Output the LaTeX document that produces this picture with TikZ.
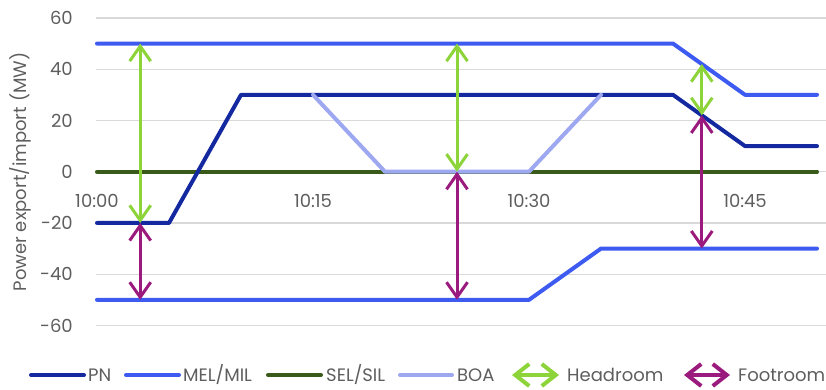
\documentclass[tikz,border=0pt]{standalone}
\usepackage{fontspec}
\setmainfont{Poppins}
\usetikzlibrary{arrows.meta}
\definecolor{pncol}{HTML}{1428A0}
\definecolor{melcol}{HTML}{3D5AF1}
\definecolor{selcol}{HTML}{3A5A1A}
\definecolor{boacol}{HTML}{9DA8F0}
\definecolor{headcol}{HTML}{8CD43A}
\definecolor{footcol}{HTML}{9B1A7E}
\definecolor{txtcol}{HTML}{5E5E5E}
\definecolor{gridcol}{HTML}{D9D9D9}
\begin{document}
\begin{tikzpicture}[x=1pt,y=-1pt,
  series/.style={line width=4pt, line cap=round, line join=round},
  rangearrow/.style={line width=3pt, {Straight Barb[length=15pt,width=21pt]}-{Straight Barb[length=15pt,width=21pt]}},
  legarrow/.style={line width=4pt, {Straight Barb[length=14pt,width=22pt]}-{Straight Barb[length=14pt,width=22pt]}},
  lbl/.style={text=txtcol, font=\fontsize{18}{20}\selectfont, inner sep=0pt},
  gridline/.style={draw=gridcol, line width=1.3pt}]
\useasboundingbox (0,0) rectangle (826,390);
\begin{scope}[shift={(97,171.7)}, x=14.4pt, y=2.5625pt]
  \foreach \v in {-60,-40,...,60} {
    \draw[gridline] (-0.07,\v) -- (50.7,\v);
    \node[lbl, anchor=east] (tick\v) at (-1.67,\v) {\v};
  }
  \foreach \t/\s in {0/10:00,15/10:15,30/10:30,45/10:45}
    \node[lbl] (time\t) at (\t,-11.3) {\s};
  % SEL/SIL
  \draw[series, selcol] (0,0) -- (50,0);
  % MEL/MIL
  \draw[series, melcol] (0,50) -- (40,50) -- (45,30) -- (50,30);
  \draw[series, melcol] (0,-50) -- (30,-50) -- (35,-30) -- (50,-30);
  % PN
  \draw[series, pncol] (0,-20) -- (5,-20) -- (10,30) -- (40,30) -- (45,10) -- (50,10);
  % BOA
  \draw[series, boacol] (15,30) -- (20,0) -- (30,0) -- (35,30);
  % anchor points for arrows
  \coordinate (melA) at (3,50);
  \coordinate (pnA) at (3,-20);
  \coordinate (minA) at (3,-50);
  \coordinate (melB) at (25,50);
  \coordinate (pnB) at (25,0);
  \coordinate (minB) at (25,-50);
  \coordinate (melC) at (42,42);
  \coordinate (pnC) at (42,22);
  \coordinate (minC) at (42,-30);
  \draw[rangearrow, headcol] (melA) -- (pnA);
  \draw[rangearrow, headcol] (melB) -- (pnB);
  \draw[rangearrow, headcol] (melC) -- (pnC);
  \draw[rangearrow, footcol] (pnA) -- (minA);
  \draw[rangearrow, footcol] (pnB) -- (minB);
  \draw[rangearrow, footcol] (pnC) -- (minC);
\end{scope}
\node[lbl, rotate=90] (ytitle) at (20,172) {Power export/import (MW)};
% legend
\draw[series, pncol] (31,375) -- (84,375);
\node[lbl, anchor=west] (legPN) at (88,375) {PN};
\draw[series, melcol] (126,375) -- (179,375);
\node[lbl, anchor=west] (legMEL) at (183,375) {MEL/MIL};
\draw[series, selcol] (268,375) -- (321,375);
\node[lbl, anchor=west] (legSEL) at (326,375) {SEL/SIL};
\draw[series, boacol] (400,375) -- (452,375);
\node[lbl, anchor=west] (legBOA) at (457,375) {BOA};
\draw[legarrow, headcol] (512,375) -- (559,375);
\node[lbl, anchor=west] (legHead) at (567,375) {Headroom};
\draw[legarrow, footcol] (684,375) -- (730,375);
\node[lbl, anchor=west] (legFoot) at (738,375) {Footroom};
\end{tikzpicture}
\end{document}
